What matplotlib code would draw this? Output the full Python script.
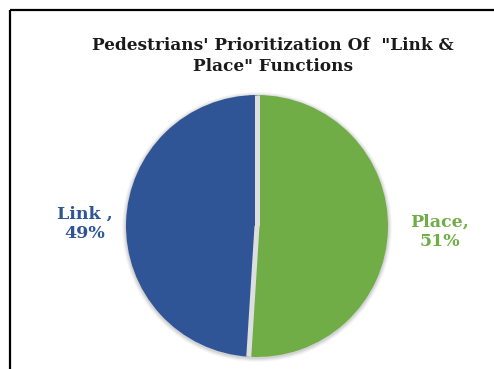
import numpy as np
import matplotlib.pyplot as plt
from matplotlib.patches import Circle

labels = ["Place", "Link"]
shares = [51, 49]
label_text = ["Place,\n51%", "Link ,\n49%"]
colors = ["#70AD47", "#2F5597"]

W, H = 494, 369
fig = plt.figure(figsize=(W / 100, H / 100), dpi=100)
ax = fig.add_axes([0, 0, 1, 1])

cx, cy, r = 257, H - 226, 131

# soft shadow round the pie
for k, a in [(4, 0.03), (3, 0.04), (2, 0.05), (1, 0.06)]:
    ax.add_patch(Circle((cx, cy - 1), r + k, color="black", alpha=a, lw=0, zorder=1))

wedges, _ = ax.pie(shares, colors=colors, startangle=90, counterclock=False,
                   center=(cx, cy), radius=r, frame=True,
                   wedgeprops=dict(linewidth=0))
for w in wedges:
    w.set_zorder(2)

# gaps between slices
ang = 90.0
for s in [0] + list(np.cumsum(shares)[:-1]):
    a = np.deg2rad(ang - 360.0 * s / sum(shares))
    ax.plot([cx, cx + r * np.cos(a)], [cy, cy + r * np.sin(a)],
            color="#dedede", lw=3.6, solid_capstyle="butt", zorder=3)

ax.set_xlim(0, W)
ax.set_ylim(0, H)
ax.set_aspect("auto")
ax.axis("off")

font = "DejaVu Serif"
ax.text(440, H - 232, label_text[0], color=colors[0], ha="center", va="center",
        fontsize=12.5, fontweight="bold", family=font, linespacing=1.2)
ax.text(85, H - 224, label_text[1], color=colors[1], ha="center", va="center",
        fontsize=12.5, fontweight="bold", family=font, linespacing=1.2)

ax.text(273, H - 56, "Pedestrians' Prioritization Of  \"Link &\nPlace\" Functions",
        color="#1a1a1a", ha="center", va="center", fontsize=12.2,
        fontweight="bold", family=font, linespacing=1.3)

# chart frame, cut at right and bottom
ax.plot([9.5, W + 5], [H - 9.5, H - 9.5], color="black", lw=1.6, solid_capstyle="butt")
ax.plot([9.5, 9.5], [H - 9.5, -5], color="black", lw=1.6, solid_capstyle="butt")

fig.savefig("out.png", dpi=100)
